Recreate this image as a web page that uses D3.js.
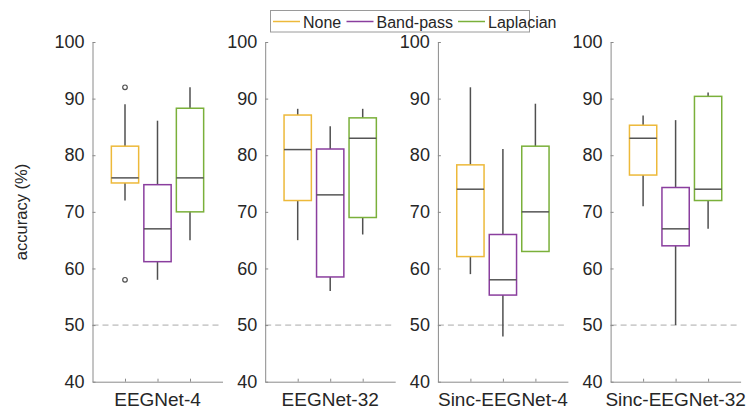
<!DOCTYPE html>
<html>
<head>
<meta charset="utf-8">
<script src="https://cdn.jsdelivr.net/npm/d3@7"></script>
<style>
  body { margin: 0; background: #fff; }
  svg { font-family: "Liberation Sans", Arial, sans-serif; }
</style>
</head>
<body>
<div id="chart"></div>
<script>
// models shown in each panel
var models = ['EEGNet-4', 'EEGNet-32', 'Sinc-EEGNet-4', 'Sinc-EEGNet-32'];
// preprocessing variants (legend)
var filters = ['None', 'Band-pass', 'Laplacian'];
var filterColors = ['#EDB93A', '#8A3E9E', '#7AB03A'];

// box stats per model: [whiskerLow, q1, median, q3, whiskerHigh]
var noneStats = [[72, 75.1, 76, 81.6, 89], [65, 72, 81, 87.1, 88.2], [59, 62.1, 74, 78.3, 92], [71, 76.5, 83, 85.3, 87]];
var bandpassStats = [[58, 61.2, 67, 74.8, 86.1], [56, 58.5, 73, 81.1, 85.1], [48, 55.3, 58, 66, 81.1], [50, 64, 67, 74.3, 86.2]];
var laplacianStats = [[65, 70, 76, 88.3, 92], [66, 69, 83, 86.6, 88.2], [63, 63, 70, 81.6, 89.1], [67, 72, 74, 90.4, 91.1]];
// outliers per model
var noneOutliers = [[92, 58], [], [], []];
var bandpassOutliers = [[], [], [], []];
var laplacianOutliers = [[], [], [], []];

var yTicks = [40, 50, 60, 70, 80, 90, 100];
var chanceLevel = 50;

var statsByFilter = [noneStats, bandpassStats, laplacianStats];
var outliersByFilter = [noneOutliers, bandpassOutliers, laplacianOutliers];

var width = 749, height = 414;
var panel = { left: 92.5, step: 172.7, width: 130, top: 42, bottom: 381.7 };

var svg = d3.select('#chart').append('svg')
            .attr('width', width)
            .attr('height', height);

var x = d3.scaleLinear().domain([0, 4]).range([0, panel.width]);
var y = d3.scaleLinear().domain([40, 100]).range([panel.bottom, panel.top]);
var boxW = x(0.84) - x(0);

var axisColor = '#8a8a8a';
var textColor = '#262626';
var whiskerColor = '#505050';

models.forEach(function(model, m) {
  var g = svg.append('g')
             .attr('transform', 'translate(' + (panel.left + m * panel.step) + ',0)');

  // chance line
  g.append('line')
   .attr('x1', x(0)).attr('x2', x(3.9))
   .attr('y1', y(chanceLevel)).attr('y2', y(chanceLevel))
   .attr('stroke', '#aaaaaa')
   .attr('stroke-width', 1)
   .attr('stroke-dasharray', '6,4');

  // y axis
  var yAxis = d3.axisLeft(y).tickValues(yTicks).tickSizeInner(-3).tickSizeOuter(0).tickPadding(8);
  var ya = g.append('g').call(yAxis);
  ya.select('.domain').attr('stroke', axisColor);
  ya.selectAll('.tick line').attr('stroke', axisColor);
  ya.selectAll('.tick text').attr('fill', textColor).style('font-size', '18px');

  // x axis
  var xAxis = d3.axisBottom(x).tickValues([1, 2, 3]).tickSizeInner(-3).tickSizeOuter(0).tickFormat('');
  var xa = g.append('g').attr('transform', 'translate(0,' + panel.bottom + ')').call(xAxis);
  xa.select('.domain').attr('stroke', axisColor);
  xa.selectAll('.tick line').attr('stroke', axisColor);

  g.append('text')
   .attr('x', x(2))
   .attr('y', 406)
   .attr('text-anchor', 'middle')
   .attr('fill', textColor)
   .style('font-size', '19px')
   .text(model);

  filters.forEach(function(f, i) {
    var s = statsByFilter[i][m];
    var cx = x(i + 1);

    // whiskers
    g.append('line')
     .attr('x1', cx).attr('x2', cx)
     .attr('y1', y(s[4])).attr('y2', y(s[3]))
     .attr('stroke', whiskerColor).attr('stroke-width', 1.5);
    g.append('line')
     .attr('x1', cx).attr('x2', cx)
     .attr('y1', y(s[1])).attr('y2', y(s[0]))
     .attr('stroke', whiskerColor).attr('stroke-width', 1.5);

    // box
    g.append('rect')
     .attr('x', cx - boxW / 2)
     .attr('y', y(s[3]))
     .attr('width', boxW)
     .attr('height', y(s[1]) - y(s[3]))
     .attr('fill', 'none')
     .attr('stroke', filterColors[i])
     .attr('stroke-width', 1.5);

    // median
    g.append('line')
     .attr('x1', cx - boxW / 2).attr('x2', cx + boxW / 2)
     .attr('y1', y(s[2])).attr('y2', y(s[2]))
     .attr('stroke', '#555555').attr('stroke-width', 1.5);

    // outliers
    g.selectAll('circle.out' + i)
     .data(outliersByFilter[i][m])
     .enter()
     .append('circle')
     .attr('class', 'out' + i)
     .attr('cx', cx)
     .attr('cy', function(d) { return y(d); })
     .attr('r', 2.3)
     .attr('fill', 'none')
     .attr('stroke', whiskerColor)
     .attr('stroke-width', 1.2);
  });
});

// y label
svg.append('text')
   .attr('transform', 'translate(27,212) rotate(-90)')
   .attr('text-anchor', 'middle')
   .attr('fill', textColor)
   .style('font-size', '16.5px')
   .text('accuracy (%)');

// legend
var legend = svg.append('g');
legend.append('rect')
      .attr('x', 270.5).attr('y', 10.5)
      .attr('width', 259).attr('height', 21.5)
      .attr('fill', '#fff')
      .attr('stroke', '#9a9a9a')
      .attr('stroke-width', 1);

var legendX = [273, 346.5, 458];
filters.forEach(function(f, i) {
  legend.append('line')
        .attr('x1', legendX[i]).attr('x2', legendX[i] + 27)
        .attr('y1', 21.5).attr('y2', 21.5)
        .attr('stroke', filterColors[i])
        .attr('stroke-width', 1.5);
  legend.append('text')
        .attr('x', legendX[i] + 30)
        .attr('y', 27.5)
        .attr('fill', textColor)
        .style('font-size', '16px')
        .text(f);
});
</script>
</body>
</html>
